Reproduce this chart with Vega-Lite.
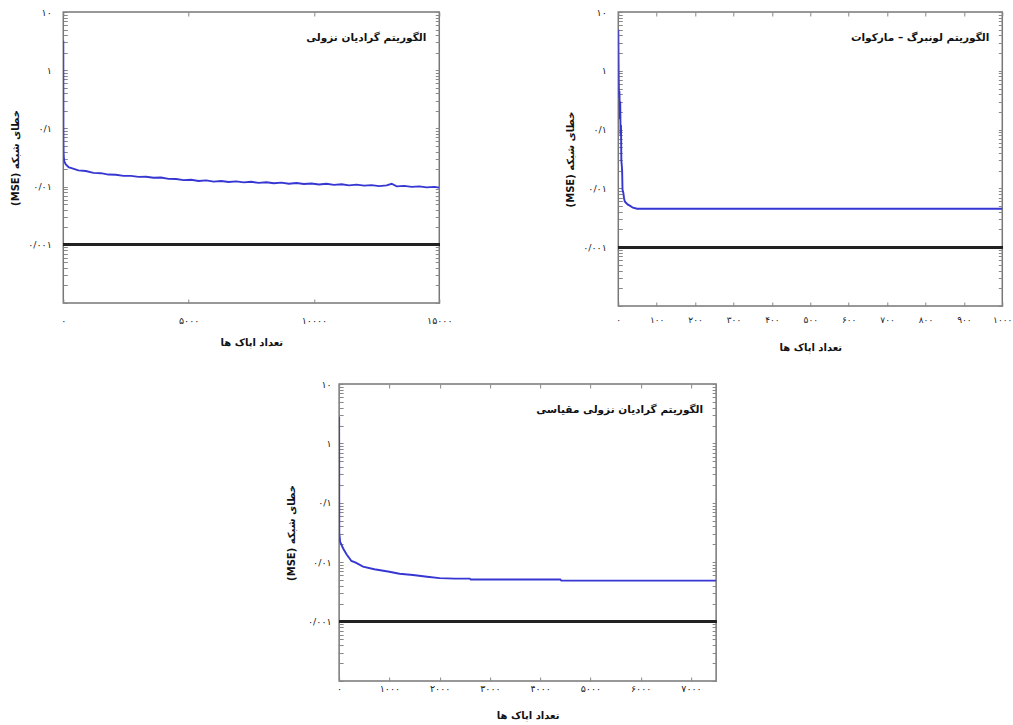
{
  "$schema": "https://vega.github.io/schema/vega-lite/v6.json",
  "background": "white",
  "padding": {"left": 9, "top": 6, "right": 0, "bottom": 0},
  "config": {
    "font": "DejaVu Sans",
    "view": {"stroke": "#777", "strokeWidth": 1.5},
    "axis": {"grid": false, "domain": false, "tickColor": "#888", "tickSize": -4, "labelFontSize": 9.5, "labelColor": "#222", "labelFlush": false, "labelOverlap": false, "titleFontSize": 10, "titleFontWeight": "bold", "titleColor": "#111"},
    "title": {"fontSize": 10.5, "fontWeight": "bold", "color": "#111", "anchor": "end", "frame": "group", "baseline": "top", "offset": -36, "dx": -13}
  },
  "datasets": {
    "gd": [
      {"epoch": 0, "mse": 3.2}, {"epoch": 5, "mse": 0.06}, {"epoch": 15, "mse": 0.034}, {"epoch": 40, "mse": 0.027}, {"epoch": 100, "mse": 0.024}, {"epoch": 223, "mse": 0.0214}, {"epoch": 300, "mse": 0.0209}, {"epoch": 600, "mse": 0.019}, {"epoch": 900, "mse": 0.0185}, {"epoch": 1200, "mse": 0.0172}, {"epoch": 1500, "mse": 0.017}, {"epoch": 1800, "mse": 0.0161}, {"epoch": 2100, "mse": 0.016}, {"epoch": 2400, "mse": 0.0153}, {"epoch": 2700, "mse": 0.0153}, {"epoch": 3000, "mse": 0.0147}, {"epoch": 3300, "mse": 0.0148}, {"epoch": 3600, "mse": 0.0142}, {"epoch": 3900, "mse": 0.0143}, {"epoch": 4200, "mse": 0.0136}, {"epoch": 4500, "mse": 0.0135}, {"epoch": 4800, "mse": 0.0129}, {"epoch": 5100, "mse": 0.0131}, {"epoch": 5400, "mse": 0.0125}, {"epoch": 5700, "mse": 0.0128}, {"epoch": 6000, "mse": 0.0122}, {"epoch": 6300, "mse": 0.0125}, {"epoch": 6600, "mse": 0.012}, {"epoch": 6900, "mse": 0.0123}, {"epoch": 7200, "mse": 0.0118}, {"epoch": 7500, "mse": 0.0121}, {"epoch": 7800, "mse": 0.0116}, {"epoch": 8100, "mse": 0.0119}, {"epoch": 8400, "mse": 0.0114}, {"epoch": 8700, "mse": 0.0117}, {"epoch": 9000, "mse": 0.0112}, {"epoch": 9300, "mse": 0.0115}, {"epoch": 9600, "mse": 0.0111}, {"epoch": 9900, "mse": 0.0113}, {"epoch": 10200, "mse": 0.0109}, {"epoch": 10500, "mse": 0.0112}, {"epoch": 10800, "mse": 0.0107}, {"epoch": 11100, "mse": 0.011}, {"epoch": 11400, "mse": 0.0105}, {"epoch": 11700, "mse": 0.0108}, {"epoch": 12000, "mse": 0.0104}, {"epoch": 12300, "mse": 0.0106}, {"epoch": 12600, "mse": 0.0102}, {"epoch": 12900, "mse": 0.0105}, {"epoch": 13100, "mse": 0.0112}, {"epoch": 13300, "mse": 0.0101}, {"epoch": 13600, "mse": 0.0103}, {"epoch": 13900, "mse": 0.0099}, {"epoch": 14200, "mse": 0.0101}, {"epoch": 14500, "mse": 0.0097}, {"epoch": 14800, "mse": 0.0099}, {"epoch": 15000, "mse": 0.0096}
    ],
    "lm": [
      {"epoch": 0, "mse": 5}, {"epoch": 1, "mse": 0.8}, {"epoch": 2, "mse": 0.35}, {"epoch": 3, "mse": 0.45}, {"epoch": 4, "mse": 0.15}, {"epoch": 5, "mse": 0.3}, {"epoch": 6, "mse": 0.08}, {"epoch": 7, "mse": 0.12}, {"epoch": 8, "mse": 0.03}, {"epoch": 9, "mse": 0.025}, {"epoch": 10, "mse": 0.02}, {"epoch": 11, "mse": 0.0095}, {"epoch": 13, "mse": 0.0085}, {"epoch": 15, "mse": 0.0068}, {"epoch": 17, "mse": 0.006}, {"epoch": 20, "mse": 0.0057}, {"epoch": 25, "mse": 0.0053}, {"epoch": 30, "mse": 0.0051}, {"epoch": 38, "mse": 0.0047}, {"epoch": 49, "mse": 0.0045}, {"epoch": 1000, "mse": 0.0045}
    ],
    "sgd": [
      {"epoch": 0, "mse": 2.8}, {"epoch": 3, "mse": 0.031}, {"epoch": 20, "mse": 0.022}, {"epoch": 80, "mse": 0.017}, {"epoch": 150, "mse": 0.0135}, {"epoch": 245, "mse": 0.0105}, {"epoch": 330, "mse": 0.0098}, {"epoch": 476, "mse": 0.0084}, {"epoch": 700, "mse": 0.0076}, {"epoch": 1000, "mse": 0.0069}, {"epoch": 1200, "mse": 0.0064}, {"epoch": 1470, "mse": 0.0061}, {"epoch": 1750, "mse": 0.0057}, {"epoch": 2000, "mse": 0.0054}, {"epoch": 2300, "mse": 0.0053}, {"epoch": 2600, "mse": 0.0053}, {"epoch": 2620, "mse": 0.0051}, {"epoch": 4400, "mse": 0.0051}, {"epoch": 4420, "mse": 0.0049}, {"epoch": 7500, "mse": 0.0049}
    ]
  },
  "vconcat": [
    {
      "hconcat": [
        {
          "width": 376, "height": 291,
          "title": {"text": "الگوریتم گرادیان نزولی"},
          "data": {"name": "gd"},
          "layer": [
            {
              "mark": {"type": "line", "color": "#3636d2", "strokeWidth": 1.9, "clip": true},
              "encoding": {
                "x": {"field": "epoch", "type": "quantitative", "scale": {"domain": [0, 15000], "nice": false}, "axis": {"orient": "bottom", "values": [0, 5000, 10000, 15000], "labelPadding": 16, "labelExpr": "join(split(join(split(join(split(join(split(join(split(join(split(join(split(join(split(join(split(join(split(toString(datum.value),'0'),'۰'),'1'),'۱'),'2'),'۲'),'3'),'۳'),'4'),'۴'),'5'),'۵'),'6'),'۶'),'7'),'۷'),'8'),'۸'),'9'),'۹')", "title": "تعداد اپاک ها", "titlePadding": 13}},
                "y": {"field": "mse", "type": "quantitative", "scale": {"type": "log", "domain": [0.0001, 10], "nice": false}, "axis": {"orient": "left", "values": [0.0001,0.0002,0.0003,0.0004,0.0005,0.0006,0.0007,0.0008,0.0009,0.001,0.002,0.003,0.004,0.005,0.006,0.007,0.008,0.009,0.01,0.02,0.03,0.04,0.05,0.06,0.07,0.08,0.09,0.1,0.2,0.3,0.4,0.5,0.6,0.7,0.8,0.9,1,2,3,4,5,6,7,8,9,10], "labelPadding": 16, "labelExpr": "datum.value == 10 ? '۱۰' : datum.value == 1 ? '۱' : datum.value == 0.1 ? '۰/۱' : datum.value == 0.01 ? '۰/۰۱' : datum.value == 0.001 ? '۰/۰۰۱' : ''", "title": "(MSE)  خطای شبکه", "titlePadding": 7}}
              }
            },
            {
              "mark": {"type": "rule", "color": "#222", "strokeWidth": 2.2},
              "encoding": {
                "y": {"datum": 0.001, "type": "quantitative", "axis": {"orient": "right", "labels": false, "title": null, "values": [0.0001,0.0002,0.0003,0.0004,0.0005,0.0006,0.0007,0.0008,0.0009,0.001,0.002,0.003,0.004,0.005,0.006,0.007,0.008,0.009,0.01,0.02,0.03,0.04,0.05,0.06,0.07,0.08,0.09,0.1,0.2,0.3,0.4,0.5,0.6,0.7,0.8,0.9,1,2,3,4,5,6,7,8,9,10]}}
              }
            },
            {
              "mark": {"type": "line", "opacity": 0},
              "encoding": {
                "x": {"field": "epoch", "type": "quantitative", "axis": {"orient": "top", "labels": false, "title": null, "values": [0, 5000, 10000, 15000]}},
                "y": {"field": "mse", "type": "quantitative", "axis": null}
              }
            }
          ],
          "resolve": {"axis": {"x": "independent", "y": "independent"}}
        },
        {
          "width": 384, "height": 294,
          "title": {"text": "الگوریتم لونبرگ – مارکوات"},
          "data": {"name": "lm"},
          "layer": [
            {
              "mark": {"type": "line", "color": "#3636d2", "strokeWidth": 1.9, "clip": true},
              "encoding": {
                "x": {"field": "epoch", "type": "quantitative", "scale": {"domain": [0, 1000], "nice": false}, "axis": {"orient": "bottom", "values": [0, 100, 200, 300, 400, 500, 600, 700, 800, 900, 1000], "labelPadding": 13, "labelFontSize": 9, "labelExpr": "join(split(join(split(join(split(join(split(join(split(join(split(join(split(join(split(join(split(join(split(toString(datum.value),'0'),'۰'),'1'),'۱'),'2'),'۲'),'3'),'۳'),'4'),'۴'),'5'),'۵'),'6'),'۶'),'7'),'۷'),'8'),'۸'),'9'),'۹')", "title": "تعداد اپاک ها", "titlePadding": 18}},
                "y": {"field": "mse", "type": "quantitative", "scale": {"type": "log", "domain": [0.0001, 10], "nice": false}, "axis": {"orient": "left", "values": [0.0001,0.0002,0.0003,0.0004,0.0005,0.0006,0.0007,0.0008,0.0009,0.001,0.002,0.003,0.004,0.005,0.006,0.007,0.008,0.009,0.01,0.02,0.03,0.04,0.05,0.06,0.07,0.08,0.09,0.1,0.2,0.3,0.4,0.5,0.6,0.7,0.8,0.9,1,2,3,4,5,6,7,8,9,10], "labelPadding": 16, "labelExpr": "datum.value == 10 ? '۱۰' : datum.value == 1 ? '۱' : datum.value == 0.1 ? '۰/۱' : datum.value == 0.01 ? '۰/۰۱' : datum.value == 0.001 ? '۰/۰۰۱' : ''", "title": "(MSE)  خطای شبکه", "titlePadding": 7}}
              }
            },
            {
              "mark": {"type": "rule", "color": "#222", "strokeWidth": 2.2},
              "encoding": {
                "y": {"datum": 0.001, "type": "quantitative", "axis": {"orient": "right", "labels": false, "title": null, "values": [0.0001,0.0002,0.0003,0.0004,0.0005,0.0006,0.0007,0.0008,0.0009,0.001,0.002,0.003,0.004,0.005,0.006,0.007,0.008,0.009,0.01,0.02,0.03,0.04,0.05,0.06,0.07,0.08,0.09,0.1,0.2,0.3,0.4,0.5,0.6,0.7,0.8,0.9,1,2,3,4,5,6,7,8,9,10]}}
              }
            },
            {
              "mark": {"type": "line", "opacity": 0},
              "encoding": {
                "x": {"field": "epoch", "type": "quantitative", "axis": {"orient": "top", "labels": false, "title": null, "values": [0, 100, 200, 300, 400, 500, 600, 700, 800, 900, 1000]}},
                "y": {"field": "mse", "type": "quantitative", "axis": null}
              }
            }
          ],
          "resolve": {"axis": {"x": "independent", "y": "independent"}}
        }
      ],
      "spacing": 111
    },
    {
      "width": 377, "height": 297,
      "title": {"text": "الگوریتم گرادیان نزولی مقیاسی"},
      "data": {"name": "sgd"},
      "layer": [
        {
          "mark": {"type": "line", "color": "#3636d2", "strokeWidth": 1.9, "clip": true},
          "encoding": {
            "x": {"field": "epoch", "type": "quantitative", "scale": {"domain": [0, 7500], "nice": false}, "axis": {"orient": "bottom", "values": [0, 1000, 2000, 3000, 4000, 5000, 6000, 7000], "labelPadding": 6, "labelExpr": "join(split(join(split(join(split(join(split(join(split(join(split(join(split(join(split(join(split(join(split(toString(datum.value),'0'),'۰'),'1'),'۱'),'2'),'۲'),'3'),'۳'),'4'),'۴'),'5'),'۵'),'6'),'۶'),'7'),'۷'),'8'),'۸'),'9'),'۹')", "title": "تعداد اپاک ها", "titlePadding": 18}},
            "y": {"field": "mse", "type": "quantitative", "scale": {"type": "log", "domain": [0.0001, 10], "nice": false}, "axis": {"orient": "left", "values": [0.0001,0.0002,0.0003,0.0004,0.0005,0.0006,0.0007,0.0008,0.0009,0.001,0.002,0.003,0.004,0.005,0.006,0.007,0.008,0.009,0.01,0.02,0.03,0.04,0.05,0.06,0.07,0.08,0.09,0.1,0.2,0.3,0.4,0.5,0.6,0.7,0.8,0.9,1,2,3,4,5,6,7,8,9,10], "labelPadding": 12, "labelExpr": "datum.value == 10 ? '۱۰' : datum.value == 1 ? '۱' : datum.value == 0.1 ? '۰/۱' : datum.value == 0.01 ? '۰/۰۱' : datum.value == 0.001 ? '۰/۰۰۱' : ''", "title": "(MSE)  خطای شبکه", "titlePadding": 11}}
          }
        },
        {
          "mark": {"type": "rule", "color": "#222", "strokeWidth": 2.2},
          "encoding": {
            "y": {"datum": 0.001, "type": "quantitative", "axis": {"orient": "right", "labels": false, "title": null, "minExtent": 20, "values": [0.0001,0.0002,0.0003,0.0004,0.0005,0.0006,0.0007,0.0008,0.0009,0.001,0.002,0.003,0.004,0.005,0.006,0.007,0.008,0.009,0.01,0.02,0.03,0.04,0.05,0.06,0.07,0.08,0.09,0.1,0.2,0.3,0.4,0.5,0.6,0.7,0.8,0.9,1,2,3,4,5,6,7,8,9,10]}}
          }
        },
        {
          "mark": {"type": "line", "opacity": 0},
          "encoding": {
            "x": {"field": "epoch", "type": "quantitative", "axis": {"orient": "top", "labels": false, "title": null, "values": [0, 1000, 2000, 3000, 4000, 5000, 6000, 7000]}},
            "y": {"field": "mse", "type": "quantitative", "axis": null}
          }
        }
      ],
      "resolve": {"axis": {"x": "independent", "y": "independent"}}
    }
  ],
  "spacing": 25,
  "center": true
}
